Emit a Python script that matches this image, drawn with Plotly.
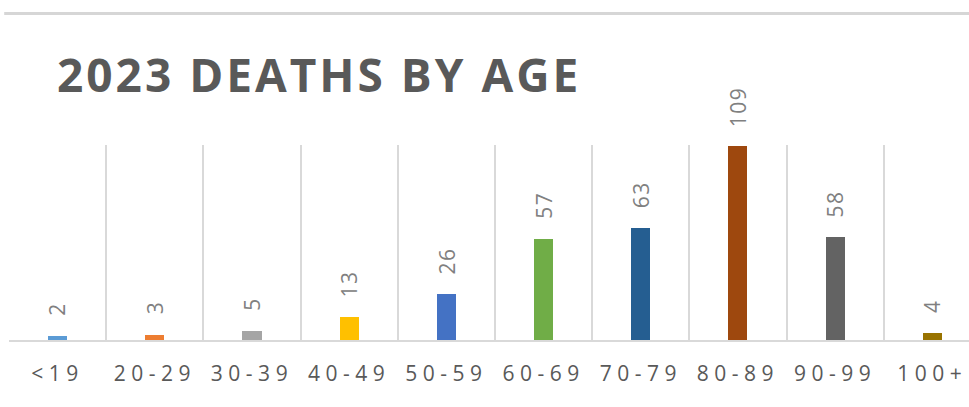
import plotly.graph_objects as go

categories = ["<19", "20-29", "30-39", "40-49", "50-59", "60-69", "70-79", "80-89", "90-99", "100+"]
deaths = [2, 3, 5, 13, 26, 57, 63, 109, 58, 4]
bar_colors = ["#5B9BD5", "#ED7D31", "#A5A5A5", "#FFC000", "#4472C4",
              "#70AD47", "#255E91", "#9E480E", "#636363", "#997300"]
title_text = "2023 DEATHS BY AGE"

xs = list(range(len(categories)))
boundaries = [i - 0.5 for i in xs]

fig = go.Figure()
fig.add_trace(go.Bar(
    x=xs, y=deaths,
    marker=dict(color=bar_colors, line=dict(width=0)),
    width=0.196,
    hoverinfo="skip",
))

for x, v in zip(xs, deaths):
    fig.add_annotation(
        x=x, y=v, xref="x", yref="y",
        text=str(v), textangle=-90,
        showarrow=False, yanchor="bottom", xanchor="center",
        yshift=19,
        font=dict(family="Open Sans", size=21, color="#808080"),
    )

fig.add_shape(type="line", xref="paper", yref="paper",
              x0=-0.005, x1=1.01, y0=1.675, y1=1.675,
              line=dict(color="#d6d6d6", width=3))

fig.update_layout(
    width=969, height=407,
    margin=dict(l=9, r=0, t=145, b=67, autoexpand=False),
    paper_bgcolor="white", plot_bgcolor="white",
    showlegend=False,
    title=dict(text=title_text, x=57/969, xref="container", xanchor="left",
               y=1 - 76/407, yref="container", yanchor="middle",
               font=dict(family="Open Sans", size=46, color="#595959", weight="bold")),
    bargap=0,
)
fig.update_xaxes(
    range=[-0.5, 9.377], automargin=False,
    tickmode="array", tickvals=xs, ticktext=categories,
    showgrid=False, zeroline=False,
    showline=True, linecolor="#d9d9d9", linewidth=2,
    ticks="", ticklabelstandoff=14,
    tickfont=dict(family="Open Sans", size=21, color="#595959"),
    minor=dict(tickmode="array", tickvals=boundaries, showgrid=True,
               gridcolor="#d9d9d9", gridwidth=2, ticks=""),
    fixedrange=True,
)
fig.update_yaxes(
    range=[0, 109.6], visible=False, showgrid=False, zeroline=False,
    automargin=False, fixedrange=True,
)

post = """
var s=document.createElement('style');
s.textContent='body{margin:0;overflow:hidden}.xtick text{letter-spacing:5.5px}.gtitle{letter-spacing:3px}.annotation-text{letter-spacing:1.5px}';
document.head.appendChild(s);
"""
fig.write_html("out.html", post_script=post, config={"displayModeBar": False})
